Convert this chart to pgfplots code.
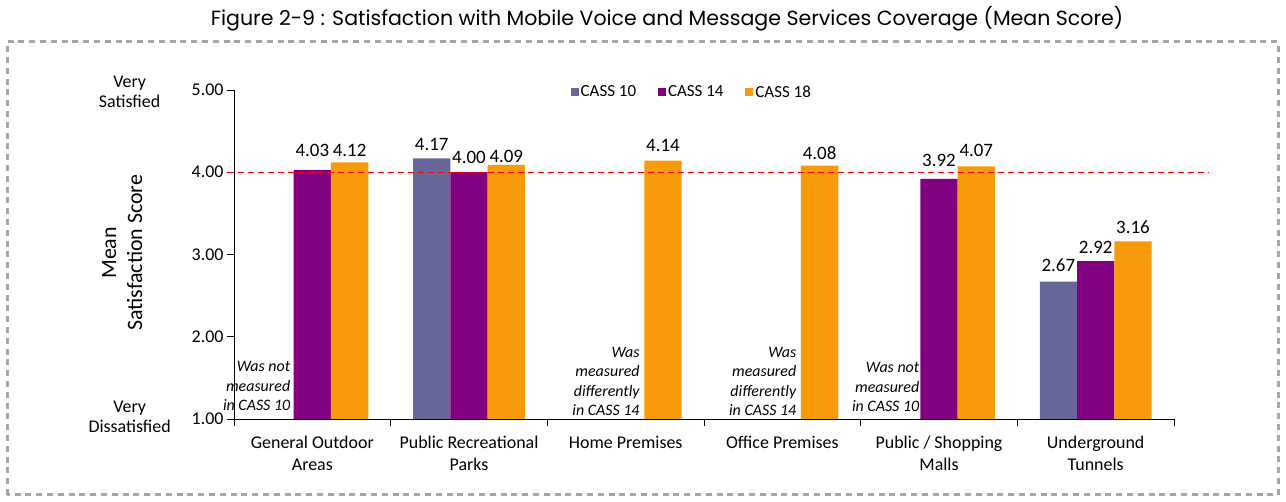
\documentclass[border=0pt]{standalone}
\usepackage{pgfplots}
\pgfplotsset{compat=1.18}
\usepackage{fontspec}
\setmainfont{Carlito}
\newfontfamily\titlefont{Poppins}

\definecolor{cassA}{RGB}{102,102,153}
\definecolor{cassB}{RGB}{128,0,128}
\definecolor{cassC}{RGB}{247,155,10}
\definecolor{framegray}{RGB}{166,166,166}

% x = category index, y = mean score, dy = label lift above the bar (bp)
\pgfplotstableread{
x y    dy
1 4.17 8
5 2.67 10.5
}\cassten
\pgfplotstableread{
x y    dy
0 4.03 13
1 4.00 9
4 3.92 12.5
5 2.92 8
}\cassfourteen
\pgfplotstableread{
x y    dy
0 4.12 6
1 4.09 2
2 4.14 9
3 4.08 6
4 4.07 10
5 3.16 8
}\casseighteen

\pgfplotsset{
  cassbar/.style={fill=#1, draw=none,
    legend image code/.code={\fill[fill=#1] (0bp,-4bp) rectangle (8bp,4bp);},
    visualization depends on={\thisrow{dy} \as \labeldy},
    nodes near coords={\pgfmathprintnumber[fixed,fixed zerofill,precision=2]{\pgfplotspointmeta}},
    every node near coord/.append style={font=\fontsize{19}{22}\selectfont, text=black, anchor=base, yshift=\labeldy bp}},
}

\begin{document}
\begin{tikzpicture}[x=1bp,y=1bp]
\useasboundingbox (0,0) rectangle (1286,502);
% dashed outer frame
\draw[framegray, line width=3bp, dash pattern=on 6bp off 4.8bp] (7,7) rectangle (1278,460);
% title
\node[font=\titlefont\fontsize{20.6}{24}\selectfont] at (667,483)
  {Figure 2-9 : Satisfaction with Mobile Voice and Message Services Coverage (Mean Score)};

\begin{axis}[
  at={(234bp,83bp)}, anchor=south west,
  scale only axis, width=940bp, height=329bp,
  xmin=-0.5, xmax=5.5, ymin=1, ymax=5,
  axis lines=left, axis line style={-, black, line width=0.8bp},
  clip=false,
  ybar=0pt, bar width=0.238,
  xtick={0,...,5},
  xticklabels={{General Outdoor\\Areas},{Public Recreational\\Parks},{Home Premises},{Office Premises},{Public / Shopping\\Malls},{Underground\\Tunnels}},
  minor xtick={-0.5,0.5,...,5.5},
  major x tick style={draw=none},
  minor x tick style={black, line width=0.8bp},
  ytick={1,2,3,4,5},
  y tick style={black, line width=0.8bp},
  tick align=outside, major tick length=7bp, minor tick length=7bp,
  /pgf/number format/assume math mode=true,
  yticklabel={\pgfmathprintnumber[fixed,fixed zerofill,precision=2]{\tick}},
  tick label style={font=\fontsize{18}{22}\selectfont},
  xticklabel style={align=center, anchor=north, yshift=-7bp},
  legend style={at={(0.487,0.994)}, anchor=center, draw=none, fill=none,
    font=\fontsize{17}{20}\selectfont,
    /tikz/every even column/.append style={column sep=20bp}},
  legend columns=3,
]
\addplot[cassbar=cassA] table[x=x, y=y] {\cassten};
\addplot[cassbar=cassB] table[x=x, y=y] {\cassfourteen};
\addplot[cassbar=cassC] table[x=x, y=y] {\casseighteen};
\legend{CASS 10, CASS 14, CASS 18}

% reference line at a score of 4
\addplot[sharp plot, red, line width=1.2bp, dash pattern=on 6bp off 4bp, forget plot]
  coordinates {(-0.54,4) (5.72,4)};

% notes where no comparable bar exists
\begin{scope}[every node/.style={font=\itshape\fontsize{16}{19.5}\selectfont, align=right, anchor=south east, inner sep=0pt}]
\node at (axis cs:-0.14,1) [yshift=8bp] {Was not\\measured\\in CASS 10};
\node at (axis cs:2.09,1) [yshift=3bp] {Was\\measured\\differently\\in CASS 14};
\node at (axis cs:3.09,1) [yshift=3bp] {Was\\measured\\differently\\in CASS 14};
\node at (axis cs:3.875,1) [yshift=7bp] {Was not\\measured\\in CASS 10};
\end{scope}

% axis captions
\node[rotate=90, align=center, font=\fontsize{22}{26}\selectfont] at (rel axis cs:-0.119,0.505) {Mean\\Satisfaction Score};
\node[align=center, font=\fontsize{18}{20}\selectfont] at (rel axis cs:-0.111,0.994) {Very\\Satisfied};
\node[align=center, font=\fontsize{18}{20}\selectfont] at (rel axis cs:-0.111,0.006) {Very\\Dissatisfied};
\end{axis}
\end{tikzpicture}
\end{document}
